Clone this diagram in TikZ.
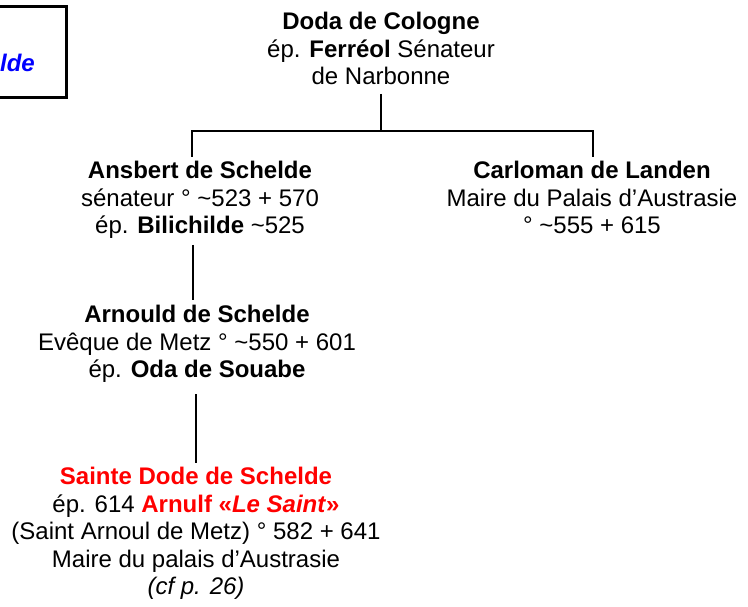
\documentclass[tikz,border=0pt]{standalone}
\usepackage{fontspec}
\setmainfont{Liberation Sans}
\definecolor{refred}{RGB}{255,0,0}
\definecolor{refblue}{RGB}{0,0,255}
\begin{document}
\begin{tikzpicture}[x=1pt,y=-1pt,
  person/.style={align=center, inner sep=0pt, anchor=north, font=\fontsize{24}{27.6}\selectfont},
  link/.style={line width=2pt}]
\useasboundingbox (0,0) rectangle (748,607);
\clip (0,0) rectangle (748,607);
% title box (cut by the left edge)
\draw[line width=3pt] (-40,7) rectangle (66,98);
\node[anchor=base east, inner sep=0pt, text=refblue, font=\fontsize{24}{27.6}\selectfont\bfseries\itshape] (title) at (35,72) {lde};
% people
\node[person] (doda) at (381,12) {\textbf{Doda de Cologne}\\ ép. \textbf{Ferréol} Sénateur\\ de Narbonne};
\node[person] (ansbert) at (200,161) {\textbf{Ansbert de Schelde}\\ sénateur ° \textasciitilde523 + 570\\ ép. \textbf{Bilichilde} \textasciitilde525};
\node[person] (carloman) at (592,161) {\textbf{Carloman de Landen}\\ Maire du Palais d’Austrasie\\ ° \textasciitilde555 + 615};
\node[person] (arnould) at (197,305) {\textbf{Arnould de Schelde}\\ Evêque de Metz ° \textasciitilde550 + 601\\ ép. \textbf{Oda de Souabe}};
\node[person] (dode) at (196,467) {\textcolor{refred}{\textbf{Sainte Dode de Schelde}}\\ ép. 614 \textcolor{refred}{\textbf{Arnulf «\textit{Le Saint}»}}\\ (Saint Arnoul de Metz) ° 582 + 641\\ Maire du palais d’Austrasie\\ \textit{(cf p. 26)}};
% connector points
\coordinate (dodaLow) at (381,94);
\coordinate (fork) at (381,131);
\coordinate (ansTop) at (192,157);
\coordinate (carTop) at (593,157);
\coordinate (ansLow) at (193,245);
\coordinate (arnTop) at (193,300);
\coordinate (arnLow) at (196,394);
\coordinate (dodeTop) at (196,463);
\coordinate (busY) at (0,131);
% connectors
\draw[link] (dodaLow) -- (fork);
\draw[link] (ansTop) |- (carTop |- busY) -- (carTop);
\draw[link] (ansLow) -- (arnTop);
\draw[link] (arnLow) -- (dodeTop);
\end{tikzpicture}
\end{document}
